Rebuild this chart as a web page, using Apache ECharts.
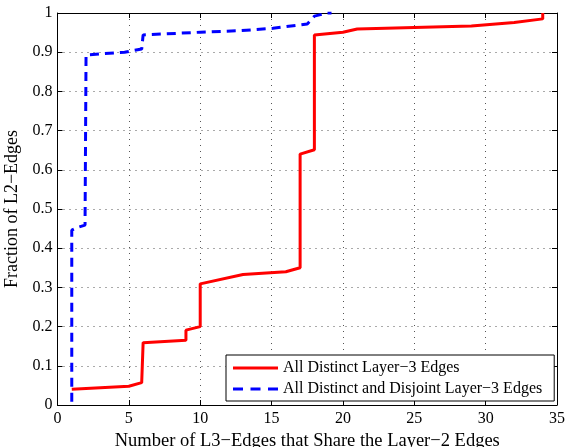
<!DOCTYPE html>
<html>
<head>
<meta charset="utf-8">
<script src="https://cdn.jsdelivr.net/npm/echarts@6/dist/echarts.min.js"></script>
<style>
  html, body { margin: 0; padding: 0; background: #fff; }
  #chart { width: 566px; height: 447px; }
</style>
</head>
<body>
<div id="chart"></div>
<script>
const distinctX = [1, 5, 5.9, 6, 9, 9, 10, 10, 13, 16, 17, 17, 18, 18, 20, 21, 29, 32, 34, 34]
const distinctY = [0.04, 0.048, 0.057, 0.159, 0.165, 0.191, 0.2, 0.309, 0.333, 0.34, 0.35, 0.64, 0.651, 0.944, 0.951, 0.959, 0.967, 0.976, 0.985, 1]
const disjointX = [1, 1, 1.4, 1.93, 2, 2, 4.7, 5.9, 6, 6, 10, 12.8, 15.1, 17.5, 18, 18.9, 19.2]
const disjointY = [0.008, 0.446, 0.453, 0.459, 0.46, 0.893, 0.9, 0.908, 0.91, 0.944, 0.951, 0.955, 0.961, 0.972, 0.992, 1, 1]
const xTicks = [0, 35, 5]
const yTicks = [0, 1, 0.1]
const seriesNames = ['All Distinct Layer\u22123 Edges', 'All Distinct and Disjoint Layer\u22123 Edges']

const serif = 'Liberation Serif'
const gridLine = { show: true, lineStyle: { color: '#555', type: [1, 5], width: 1 } }
// legend swatches: solid and dashed strokes
const solidIcon = 'path://M0,0H45V3H0Z'
const dashIcon = 'path://M0,0H10V3H0Z M17.5,0H27.5V3H17.5Z M35,0H45V3H35Z'

const chart = echarts.init(document.getElementById('chart'), null, { renderer: 'canvas' })

const xAxisBase = {
  type: 'value',
  min: xTicks[0],
  max: xTicks[1],
  interval: xTicks[2],
  axisLine: { show: true, onZero: false, lineStyle: { color: '#000', width: 1 } },
  axisTick: { show: true, inside: true, length: 5, lineStyle: { color: '#000' } },
  splitLine: { show: false }
}
const yAxisBase = {
  type: 'value',
  min: yTicks[0],
  max: yTicks[1],
  interval: yTicks[2],
  axisLine: { show: true, onZero: false, lineStyle: { color: '#000', width: 1 } },
  axisTick: { show: true, inside: true, length: 5, lineStyle: { color: '#000' } },
  splitLine: { show: false }
}

const option = {
  backgroundColor: '#fff',
  animation: false,
  grid: { left: 57.5, right: 9, top: 13, bottom: 42, containLabel: false, outerBoundsMode: 'none' },
  legend: {
    orient: 'vertical',
    left: 226,
    top: 355,
    backgroundColor: '#fff',
    borderColor: '#000',
    borderWidth: 1,
    borderRadius: 0,
    padding: [5, 12, 4, 7],
    itemGap: 5,
    itemWidth: 45,
    itemHeight: 3,
    textStyle: { fontFamily: serif, fontSize: 16, color: '#000' },
    data: [
      { name: seriesNames[0], icon: solidIcon },
      { name: seriesNames[1], icon: dashIcon }
    ]
  },
  xAxis: [
    Object.assign({}, xAxisBase, {
      position: 'bottom',
      name: 'Number of L3\u2212Edges that Share the Layer\u22122 Edges',
      nameLocation: 'middle',
      nameGap: 24,
      nameTextStyle: { fontFamily: serif, fontSize: 18.5, color: '#000' },
      axisLabel: { fontFamily: serif, fontSize: 16, color: '#000', margin: 6 },
      splitLine: gridLine
    }),
    Object.assign({}, xAxisBase, { position: 'top', axisLabel: { show: false } })
  ],
  yAxis: [
    Object.assign({}, yAxisBase, {
      position: 'left',
      name: 'Fraction of L2\u2212Edges',
      nameLocation: 'middle',
      nameGap: 33,
      nameTextStyle: { fontFamily: serif, fontSize: 18, color: '#000' },
      axisLabel: {
        fontFamily: serif, fontSize: 16, color: '#000', margin: 5,
        formatter: (v) => String(+v.toFixed(1))
      },
      splitLine: gridLine
    }),
    Object.assign({}, yAxisBase, { position: 'right', axisLabel: { show: false } })
  ],
  series: [
    {
      name: seriesNames[0],
      type: 'line',
      symbol: 'none',
      xAxisIndex: 0,
      yAxisIndex: 0,
      lineStyle: { color: '#ff0000', width: 3 },
      itemStyle: { color: '#ff0000' },
      data: distinctX.map((x, i) => [x, distinctY[i]])
    },
    {
      name: seriesNames[1],
      type: 'line',
      symbol: 'none',
      xAxisIndex: 0,
      yAxisIndex: 0,
      lineStyle: { color: '#0000ff', width: 3, type: [9, 6] },
      itemStyle: { color: '#0000ff' },
      data: disjointX.map((x, i) => [x, disjointY[i]])
    }
  ]
}
chart.setOption(option)
</script>
</body>
</html>
